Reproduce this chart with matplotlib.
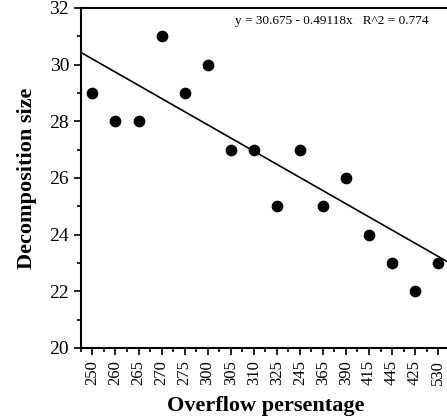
import matplotlib
matplotlib.use("Agg")
import matplotlib.pyplot as plt
import numpy as np
from matplotlib.ticker import MultipleLocator

plt.rcParams["font.family"] = ["Liberation Serif", "DejaVu Serif"]

overflow = ["250", "260", "265", "270", "275", "300", "305", "310",
            "325", "245", "365", "390", "415", "445", "425", "530"]
decomp_size = [29, 28, 28, 31, 29, 30, 27, 27, 25, 27, 25, 26, 24, 23, 22, 23]
fit_label = "y = 30.675 - 0.49118x   R^2 = 0.774"
# fitted line as drawn in the picture, read at the left and right edges of the plot
fit_x = [0.5, 16.5]
fit_y = [30.43, 23.0]

x = np.arange(1, len(overflow) + 1)

fig = plt.figure(figsize=(4.47, 4.18), dpi=100)
ax = fig.add_axes([0.181, 0.1675, 0.825, 0.8135])

ax.scatter(x, decomp_size, s=55, color="black", zorder=5)
ax.plot(fit_x, fit_y, color="black", lw=1.2)

ax.set_xlim(0.5, 16.5)
ax.set_ylim(20, 32)
ax.set_xticks(x)
ax.set_xticklabels(overflow, rotation=90, fontsize=12)
ax.xaxis.set_minor_locator(MultipleLocator(0.5))
ax.yaxis.set_major_locator(MultipleLocator(2))
ax.yaxis.set_minor_locator(MultipleLocator(1))
ax.tick_params(axis="y", labelsize=14)
ax.tick_params(which="major", direction="out", length=5, width=1.2)
ax.tick_params(which="minor", direction="out", length=3, width=1.2)

for s in ["left", "bottom", "top"]:
    ax.spines[s].set_linewidth(1.5)
ax.spines["right"].set_visible(False)

ax.set_xlabel("Overflow persentage", fontsize=16, fontweight="bold", labelpad=8)
ax.set_ylabel("Decomposition size", fontsize=16, fontweight="bold", labelpad=9)

ax.text(0.68, 0.962, fit_label,
        transform=ax.transAxes, ha="center", va="center", fontsize=9.5)

fig.savefig("out.png", dpi=100)
